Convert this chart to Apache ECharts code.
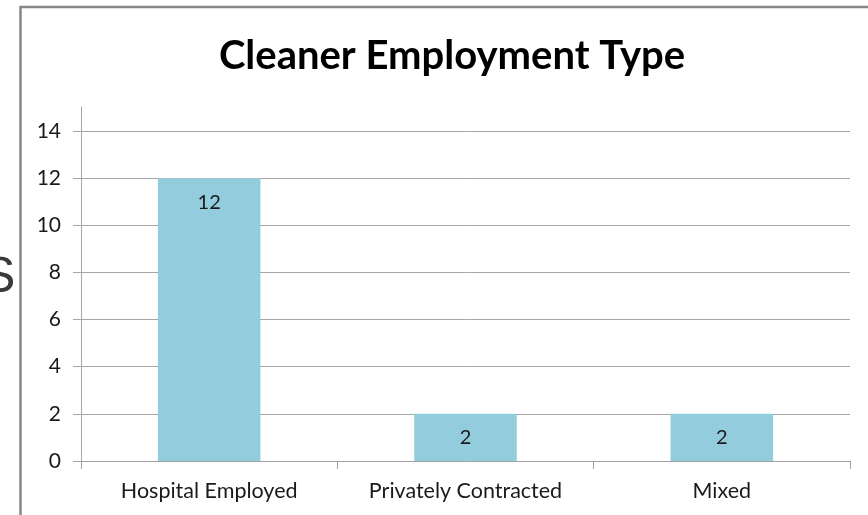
<!DOCTYPE html>
<html>
<head>
<meta charset="utf-8">
<script src="https://cdn.jsdelivr.net/npm/echarts@6/dist/echarts.min.js"></script>
<style>
  html, body { margin: 0; background: #fff; }
  #chart { width: 868px; height: 515px; }
</style>
</head>
<body>
<div id="chart"></div>
<script>
const categories = ["Hospital Employed", "Privately Contracted", "Mixed"];
const counts = [12, 2, 2];
const yTicks = [0, 2, 4, 6, 8, 10, 12, 14];

const FONT = "Lato";
const gridBox = { left: 81, right: 18, bottom: 54 };

const chart = echarts.init(document.getElementById("chart"));

chart.setOption({
  backgroundColor: "#fff",
  animation: false,
  title: {
    text: "Cleaner Employment Type",
    left: 447,
    top: 31,
    textAlign: "center",
    textStyle: { fontFamily: FONT, fontWeight: "bold", fontSize: 40, color: "#000" },
  },
  graphic: [
    {
      type: "rect",
      shape: { x: 20.5, y: 7, width: 900, height: 600 },
      style: { fill: null, stroke: "#878787", lineWidth: 2.5 },
      silent: true,
    },
    {
      type: "text",
      x: -18,
      y: 278,
      style: {
        text: "S",
        font: "50px 'Liberation Sans'",
        fill: "#3a3a3a",
        textVerticalAlign: "middle",
      },
      silent: true,
    },
  ],
  grid: [
    { ...gridBox, top: 131 },
    { ...gridBox, top: 107 },
  ],
  xAxis: [
    {
      type: "category",
      data: categories,
      axisLine: { lineStyle: { color: "#a0a0a0", width: 1 } },
      axisTick: { show: true, length: 8, lineStyle: { color: "#a0a0a0" } },
      axisLabel: { margin: 19, fontFamily: FONT, fontSize: 21.5, color: "#1a1a1a" },
    },
    { type: "category", gridIndex: 1, show: false, data: categories },
  ],
  yAxis: [
    {
      type: "value",
      min: yTicks[0],
      max: yTicks[yTicks.length - 1],
      interval: yTicks[1] - yTicks[0],
      axisLine: { show: true, lineStyle: { color: "#a6a6a6" } },
      axisTick: { show: true, length: 8, lineStyle: { color: "#a6a6a6" } },
      splitLine: { lineStyle: { color: "#a6a6a6" } },
      axisLabel: { margin: 20, fontFamily: FONT, fontSize: 21, color: "#1a1a1a" },
    },
    {
      type: "value",
      gridIndex: 1,
      axisLine: { show: true, lineStyle: { color: "#a6a6a6" } },
      axisTick: { show: false },
      axisLabel: { show: false },
      splitLine: { show: false },
    },
  ],
  series: [
    {
      type: "bar",
      data: counts,
      barWidth: "40%",
      itemStyle: { color: "#93cddd" },
      label: {
        show: true,
        position: "insideTop",
        distance: 14,
        fontFamily: FONT,
        fontSize: 20,
        color: "#1a1a1a",
      },
    },
  ],
});
</script>
</body>
</html>
